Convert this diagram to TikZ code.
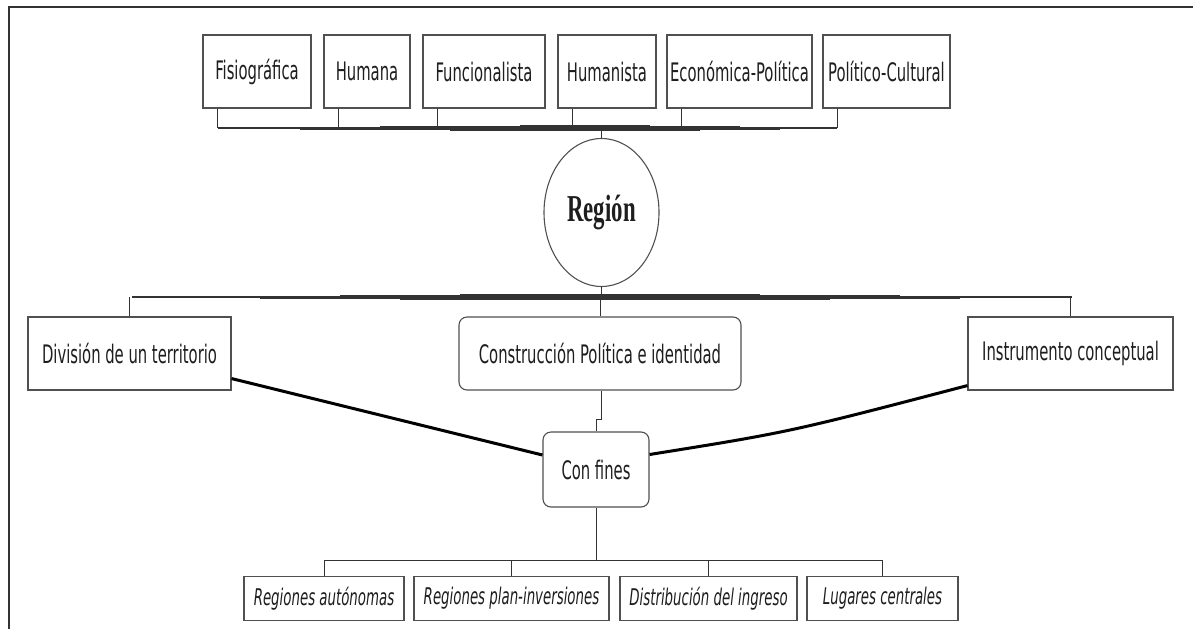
\documentclass[tikz,border=0pt]{standalone}
\usepackage{fontspec}
\usetikzlibrary{shapes.geometric}
\newfontfamily\boxfont[FakeStretch=0.645]{DejaVu Sans Condensed}
\newfontfamily\regfont[FakeStretch=0.6]{Liberation Serif}
\definecolor{ink}{HTML}{1E1E1E}
\definecolor{edge}{HTML}{505050}
\definecolor{bus}{HTML}{333333}
\begin{document}
\begin{tikzpicture}[x=1pt,y=-1pt,
  box/.style={draw=edge,line width=1.1pt,fill=white,inner sep=0pt,minimum height=73pt,
    font=\boxfont\fontsize{25.5}{30}\selectfont,text=ink},
  rbox/.style={box,rounded corners=8pt},
  lowbox/.style={box,minimum height=44pt,font=\boxfont\itshape\fontsize{23}{28}\selectfont},
  stub/.style={draw=bus,line width=1pt},
  thick link/.style={draw=black,line width=3pt}]
\useasboundingbox (0,0) rectangle (1193,629);
% frame
\draw[bus,line width=2pt] (9,629) -- (9,6.5) -- (1193,6.5);
% top boxes
\node[box,minimum width=108pt] (fis) at (257,71.5) {Fisiográfica};
\node[box,minimum width=86pt]  (hum) at (367,71.5) {Humana};
\node[box,minimum width=122pt] (fun) at (484,71.5) {Funcionalista};
\node[box,minimum width=98pt]  (hmt) at (607,71.5) {Humanista};
\node[box,minimum width=145pt] (eco) at (739.5,71.5) {Económica-Política};
\node[box,minimum width=127pt] (pol) at (886.5,71.5) {Político-Cultural};
% region
\node[draw=edge,line width=1.1pt,ellipse,minimum width=115pt,minimum height=148pt,inner sep=0pt,
  font=\regfont\bfseries\fontsize{38}{42}\selectfont,text=ink] (reg) at (601.5,212.5) {Región};
% middle boxes
\node[box,minimum width=203pt] (div) at (129.5,353.5) {División de un territorio};
\node[rbox,minimum width=282pt] (con) at (600,353.5) {Construcción Política e identidad};
\node[box,minimum width=205pt] (ins) at (1070.5,353.5) {Instrumento conceptual};
\node[rbox,minimum width=106pt,minimum height=75pt] (fin) at (596,469.5) {Con fines};
% bottom boxes
\node[lowbox,minimum width=160pt] (ra)  at (324,598.5) {Regiones autónomas};
\node[lowbox,minimum width=195pt] (rpi) at (511.5,598.5) {Regiones plan-inversiones};
\node[lowbox,minimum width=177pt] (di)  at (708.5,598.5) {Distribución del ingreso};
\node[lowbox,minimum width=151pt] (lc)  at (882.5,598.5) {Lugares centrales};
% bus coordinates
\coordinate (bt) at (601.5,128);
\coordinate (bm) at (601.5,297);
\coordinate (bb) at (596,560);
% top bus (tapered)
\foreach \w/\a/\b in {1.2/218/837, 2/250/800, 3/300/780, 4/380/740, 5/450/700, 6/520/650}
  \draw[bus,line width=\w pt] (\a,128) -- (\b,128);
\foreach \n in {fis,hum,fun,hmt,eco,pol}
  \draw[stub] ([xshift=15pt]\n.south west) -- ([xshift=15pt]\n.south west |- bt);
\draw[stub] (bt) -- (reg.north);
% middle bus (tapered)
\foreach \w/\a/\b in {1.2/132/1072, 2/180/1020, 3/260/960, 4/340/900, 5/400/830, 6/460/760}
  \draw[bus,line width=\w pt] (\a,297) -- (\b,297);
\draw[stub] (reg.south) -- (bm);
\draw[stub] (div.north |- bm) -- (div.north);
\draw[stub] (con.north |- bm) -- (con.north);
\draw[stub] (ins.north |- bm) -- (ins.north);
% construction to con fines
\draw[stub] (con.south -| bm) -- ++(0,29) -| (fin.north);
% thick links
\draw[thick link] ([yshift=12pt]div.south east) -- ([yshift=14.5pt]fin.west);
\draw[thick link] ([yshift=15pt]fin.east) .. controls (790,432) .. ([yshift=5pt]ins.south west);
% bottom bus
\draw[stub] (fin.south) -- (bb);
\draw[stub] (ra.north |- bb) -- (lc.north |- bb);
\foreach \n in {ra,rpi,di,lc}
  \draw[stub] (\n.north |- bb) -- (\n.north);
\end{tikzpicture}
\end{document}
